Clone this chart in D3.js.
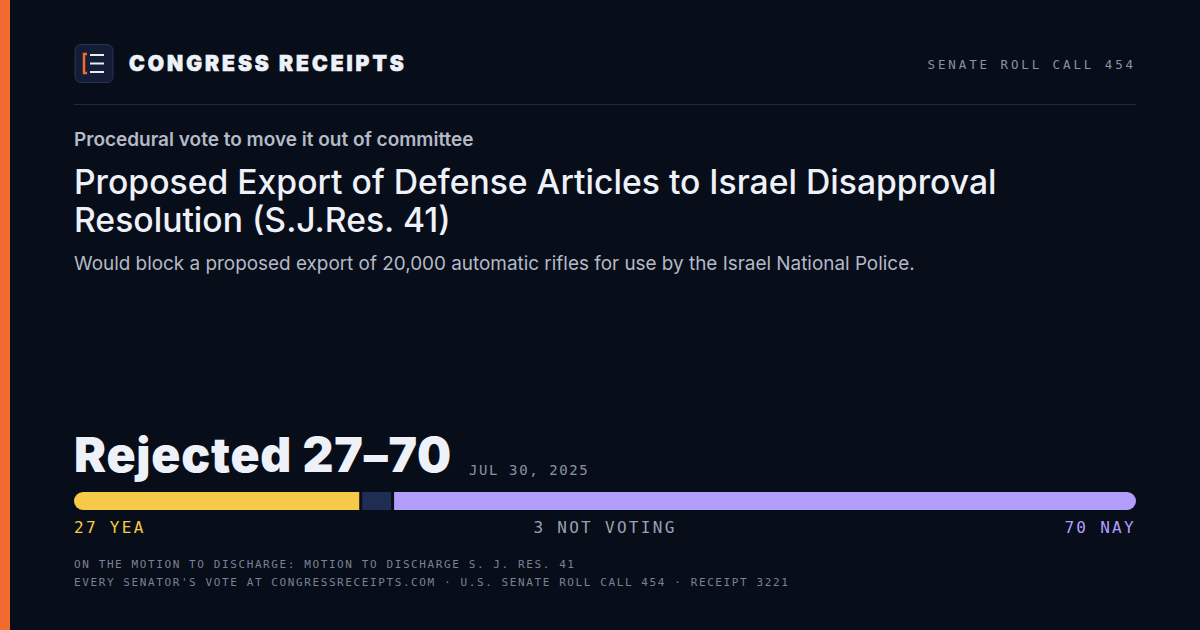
<!DOCTYPE html>
<html><head><meta charset="utf-8">
<script src="https://cdn.jsdelivr.net/npm/d3@7"></script>
<style>body{margin:0;background:#080d1a;}svg{display:block}</style>
</head><body><svg id="c" width="1200" height="630"></svg>
<script>
const categories = ["YEA", "NOT VOTING", "NAY"];
const values = [27, 3, 70];
const colors = ["#f7c948", "#1f2d52", "#b39dfc"];
const labelColors = ["#f7c948", "#9aa1b0", "#b39dfc"];

const svg = d3.select("#c");
svg.append("rect").attr("width",1200).attr("height",630).attr("fill","#080d1a");
svg.append("rect").attr("width",10).attr("height",630).attr("fill","#f26a2e");

svg.append("rect").attr("x",75).attr("y",44.5).attr("width",38).attr("height",38).attr("rx",6)
  .attr("fill","#141d36").attr("stroke","#2a3553");
svg.append("path").attr("d","M87,54 h-3 v19 h3").attr("fill","none").attr("stroke","#f26a2e").attr("stroke-width",2.5);
[55,63.5,72].forEach(y=>svg.append("line").attr("x1",90).attr("x2",104).attr("y1",y).attr("y2",y).attr("stroke","#e8ecf5").attr("stroke-width",2));
const mono = "'DejaVu Sans Mono', monospace";
svg.append("text").attr("x",129).attr("y",71).text("CONGRESS RECEIPTS")
  .attr("font-family","Inter").attr("font-weight",900).attr("font-size",21).attr("letter-spacing",3)
  .attr("stroke","#eef1f8").attr("stroke-width",0.6).attr("fill","#eef1f8");
svg.append("text").attr("x",1136).attr("y",69).attr("text-anchor","end").text("SENATE ROLL CALL 454")
  .attr("font-family",mono).attr("font-size",12.5).attr("letter-spacing",2.9).attr("fill","#8a92a3");
svg.append("line").attr("x1",74).attr("x2",1136).attr("y1",104.5).attr("y2",104.5).attr("stroke","#222a3b");

svg.append("text").attr("x",74).attr("y",146).text("Procedural vote to move it out of committee")
  .attr("font-family","Inter").attr("font-weight",600).attr("font-size",19).attr("fill","#b4bac6");
["Proposed Export of Defense Articles to Israel Disapproval","Resolution (S.J.Res. 41)"].forEach((t,i)=>
  svg.append("text").attr("x",74).attr("y",194+i*38).text(t)
   .attr("font-family","Inter").attr("font-weight",500).attr("font-size",33.7).attr("fill","#eef1f8"));
svg.append("text").attr("x",74).attr("y",270).text("Would block a proposed export of 20,000 automatic rifles for use by the Israel National Police.")
  .attr("font-family","Inter").attr("font-size",18.9).attr("fill","#b4bac6");

svg.append("text").attr("x",74).attr("y",472).text("Rejected 27–70")
  .attr("font-family","Inter").attr("font-weight",900).attr("font-size",48).attr("letter-spacing",0.8).attr("fill","#eef1f8");
svg.append("text").attr("x",469).attr("y",475).text("JUL 30, 2025")
  .attr("font-family",mono).attr("font-size",14).attr("letter-spacing",1.6).attr("fill","#8a92a3");

const total = d3.sum(values);
const x = d3.scaleLinear().domain([0,total]).range([74,1136]);
const starts = d3.cumsum([0,...values]);
const gap = 1.5;
const bars = svg.append("g");
bars.append("clipPath").attr("id","cp").append("rect").attr("x",74).attr("y",492).attr("width",1062).attr("height",18).attr("rx",9);
bars.append("g").attr("clip-path","url(#cp)").selectAll("rect").data(values).join("rect")
  .attr("x",(d,i)=>x(starts[i])+(i>0?gap:0))
  .attr("width",(d,i)=>x(starts[i]+d)-x(starts[i])-(i>0?gap:0)-(i<values.length-1?gap:0))
  .attr("y",492).attr("height",18).attr("fill",(d,i)=>colors[i]);

const la=["start","middle","end"];
values.forEach((v,i)=>svg.append("text").attr("x",[74,605,1136][i]).attr("y",533).attr("text-anchor",la[i])
  .text(v+" "+categories[i]).attr("font-family",mono).attr("font-size",16).attr("letter-spacing",2.3).attr("fill",labelColors[i]));

["ON THE MOTION TO DISCHARGE: MOTION TO DISCHARGE S. J. RES. 41","EVERY SENATOR'S VOTE AT CONGRESSRECEIPTS.COM · U.S. SENATE ROLL CALL 454 · RECEIPT 3221"]
 .forEach((t,i)=>svg.append("text").attr("x",74).attr("y",568+i*18).text(t)
   .attr("font-family",mono).attr("font-size",11).attr("letter-spacing",1.6).attr("fill","#7a8293"));
</script></body></html>
